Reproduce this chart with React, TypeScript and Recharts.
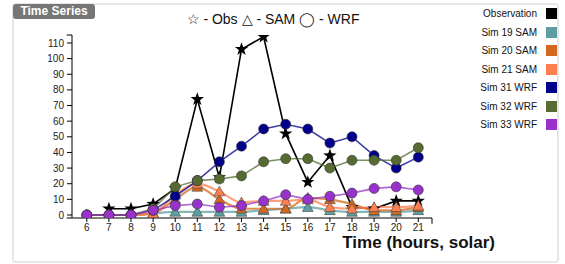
import React from "react";
import { LineChart, Line, XAxis, YAxis, ReferenceLine } from "recharts";

const hours = [6, 7, 8, 9, 10, 11, 12, 13, 14, 15, 16, 17, 18, 19, 20, 21];
const obs = [null, 4, 4, 7, 17, 74, 24, 106, 114, 52, 21, 38, 5, 4, 9, 9];
const sim19 = [0, 0, 0, 1, 2, 2, 2, 2, 3, 4, 5, 3, 2, 2, 2, 3];
const sim20 = [0, 0, 0, 1, 10, 18, 10, 4, 4, 4, 11, 10, 7, 3, 3, 5];
const sim21 = [0, 0, 0, 1, 13, 20, 15, 8, 9, 9, 10, 5, 4, 5, 5, 6];
const sim31 = [0, 0, 0, 3, 12, 22, 34, 44, 55, 58, 55, 46, 50, 38, 30, 37];
const sim32 = [0, 0, 0, 4, 18, 22, 23, 25, 34, 36, 36, 30, 35, 35, 35, 43];
const sim33 = [0, 0, 0, 3, 6, 7, 5, 6, 9, 13, 10, 12, 14, 17, 18, 16];
const yTicks = [0, 10, 20, 30, 40, 50, 60, 70, 80, 90, 100, 110];

const series = [
  { key: "obs", name: "Observation", color: "#000000", kind: "obs", values: obs },
  { key: "s19", name: "Sim 19 SAM", color: "#5f9ea0", kind: "sam", values: sim19 },
  { key: "s20", name: "Sim 20 SAM", color: "#d2691e", kind: "sam", values: sim20 },
  { key: "s21", name: "Sim 21 SAM", color: "#ff7f50", kind: "sam", values: sim21 },
  { key: "s31", name: "Sim 31 WRF", color: "#00008b", kind: "wrf", values: sim31 },
  { key: "s32", name: "Sim 32 WRF", color: "#556b2f", kind: "wrf", values: sim32 },
  { key: "s33", name: "Sim 33 WRF", color: "#9932cc", kind: "wrf", values: sim33 },
];

const data = hours.map((h, i) => {
  const row: any = { hour: h };
  series.forEach((s) => (row[s.key] = s.values[i]));
  return row;
});

const font = "'Liberation Sans', Arial, sans-serif";
const X0 = 5.33;
const X1 = 21.62;
const Y0 = -1.92;
const Y1 = 115.1;

function starPath(cx: number, cy: number, R: number, r: number) {
  let d = "";
  for (let i = 0; i < 10; i++) {
    const rad = i % 2 === 0 ? R : r;
    const a = -Math.PI / 2 + (i * Math.PI) / 5;
    d += (i === 0 ? "M" : "L") + (cx + rad * Math.cos(a)).toFixed(2) + "," + (cy + rad * Math.sin(a)).toFixed(2);
  }
  return d + "Z";
}

const makeDot = (kind: string, color: string) => (props: any) => {
  const { cx, cy, value, index } = props;
  if (value == null || cx == null || cy == null) return <g key={index} />;
  if (kind === "obs") {
    return <path key={index} d={starPath(cx, cy, 7, 2.8)} fill="#000" />;
  }
  if (kind === "sam") {
    const s = 5.4;
    return (
      <path
        key={index}
        d={`M${cx},${cy - s}L${cx + s},${cy + s * 0.8}L${cx - s},${cy + s * 0.8}Z`}
        fill={color}
        stroke="#444"
        strokeWidth={0.6}
      />
    );
  }
  return <circle key={index} cx={cx} cy={cy} r={5} fill={color} stroke="#333" strokeWidth={0.6} />;
};

const AxisTitle = (props: any) => {
  const vb = props.viewBox || {};
  return (
    <text
      x={vb.x + vb.width + 63}
      y={vb.y + 30}
      textAnchor="end"
      fontFamily={font}
      fontWeight="bold"
      fontSize={17}
      fill="#111"
    >
      Time (hours, solar)
    </text>
  );
};

export default function App() {
  return (
    <div style={{ position: "absolute", left: 0, top: 0, width: 565, height: 264, background: "#fff", fontFamily: font }}>
      <div
        style={{
          position: "absolute",
          left: 12,
          top: 3,
          width: 543,
          height: 256,
          border: "2px solid #e6e6e6",
          borderRadius: 4,
        }}
      />
      <div
        style={{
          position: "absolute",
          left: 13,
          top: 4,
          width: 82,
          height: 15,
          background: "#767676",
          borderRadius: 3,
          color: "#fff",
          fontWeight: "bold",
          fontSize: 12,
          lineHeight: "15px",
          textAlign: "center",
        }}
      >
        Time Series
      </div>
      <div
        style={{
          position: "absolute",
          left: 173,
          top: 11,
          width: 200,
          textAlign: "center",
          fontSize: 14,
          color: "#111",
          whiteSpace: "nowrap",
        }}
      >
        ☆ - Obs △ - SAM ◯ - WRF
      </div>
      <div style={{ position: "absolute", left: 0, top: 0 }}>
        <LineChart width={565} height={264} data={data} margin={{ top: 35, right: 133, left: 0, bottom: 0 }}>
          <XAxis
            dataKey="hour"
            type="number"
            domain={[X0, X1]}
            ticks={hours}
            interval={0}
            allowDataOverflow
            height={46}
            tickSize={4}
            tickMargin={2}
            stroke="#000"
            tick={{ fontSize: 10, fill: "#222", fontFamily: font }}
            label={<AxisTitle />}
          />
          <YAxis
            type="number"
            domain={[Y0, Y1]}
            ticks={yTicks}
            interval={0}
            allowDataOverflow
            width={72}
            tickSize={5}
            tickMargin={3}
            stroke="#000"
            tick={{ fontSize: 10, fill: "#222", fontFamily: font }}
          />
          <ReferenceLine
            segment={[{ x: 5.09, y: Y1 }, { x: X0, y: Y1 }]}
            stroke="#000"
            ifOverflow="visible"
          />
          <ReferenceLine
            segment={[{ x: 5.09, y: Y0 }, { x: X0, y: Y0 }]}
            stroke="#000"
            ifOverflow="visible"
          />
          <ReferenceLine
            segment={[{ x: X1, y: Y0 }, { x: X1, y: -5.6 }]}
            stroke="#000"
            ifOverflow="visible"
          />
          {series.map((s) => (
            <Line
              key={s.key}
              dataKey={s.key}
              name={s.name}
              type={s.kind === "sam" ? "monotone" : "linear"}
              stroke={s.color}
              strokeWidth={s.kind === "sam" ? 2.2 : 1.6}
              strokeOpacity={s.kind === "obs" ? 1 : 0.75}
              dot={makeDot(s.kind, s.color)}
              activeDot={false}
              isAnimationActive={false}
            />
          ))}
        </LineChart>
      </div>
      {series.map((s, i) => (
        <div key={s.key} style={{ position: "absolute", left: 440, top: 8 + i * 18.55, width: 117, height: 12 }}>
          <span
            style={{
              position: "absolute",
              right: 20,
              top: 0,
              fontSize: 10,
              lineHeight: "12px",
              color: "#111",
              whiteSpace: "nowrap",
            }}
          >
            {s.name}
          </span>
          <span
            style={{ position: "absolute", left: 106, top: 0, width: 11, height: 11, background: s.color }}
          />
        </div>
      ))}
    </div>
  );
}
